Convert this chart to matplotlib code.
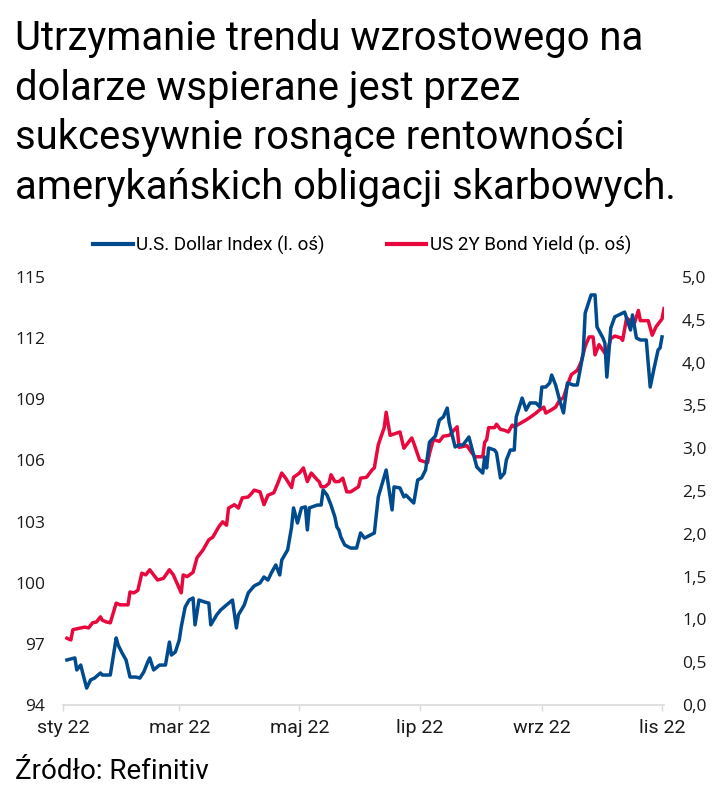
import matplotlib
matplotlib.use("Agg")
import matplotlib.pyplot as plt
from matplotlib.ticker import FixedLocator, FuncFormatter
import pandas as pd

# ---------------- data ----------------
start = pd.Timestamp("2022-01-01")

usd_days = [2, 4, 6, 7, 9, 10, 12, 14, 16, 19, 20, 24, 27, 28, 30, 32, 34, 37, 39, 41,
            43, 44, 46, 49, 52, 54, 55, 57, 59, 60, 62, 64, 66, 67, 69, 72, 74, 75, 78, 80,
            83, 86, 88, 89, 92, 94, 97, 100, 102, 104, 106, 108, 110, 111, 114, 116, 117, 119, 121, 123,
            124, 125, 129, 131, 132, 134, 136, 138, 139, 140, 141, 143, 146, 149, 151, 153, 158, 160, 164, 167,
            168, 171, 173, 174, 178, 180, 182, 184, 186, 189, 191, 193, 195, 196, 199, 201, 203, 206, 208, 210,
            213, 214, 215, 216, 219, 220, 222, 224, 225, 227, 229, 230, 233, 235, 237, 240, 242, 243, 245, 247,
            248, 250, 252, 254, 256, 259, 261, 264, 265, 268, 270, 271, 274, 275, 276, 278, 280, 285, 288, 289,
            291, 293, 296, 298, 300, 302, 303, 304]
usd_index = [96.21, 96.26, 96.31, 95.72, 95.96, 95.57, 94.83, 95.23, 95.32, 95.57, 95.47, 95.47, 97.29, 96.94, 96.55, 96.21, 95.37, 95.37, 95.32, 95.62,
             96.11, 96.31, 95.72, 95.96, 95.96, 97.09, 96.45, 96.60, 97.19, 97.83, 98.81, 99.15, 99.25, 97.93, 99.15, 99.05, 99.00, 97.93, 98.42, 98.66,
             98.91, 99.15, 97.78, 98.42, 98.91, 99.50, 99.84, 99.99, 100.28, 100.13, 100.53, 100.87, 100.38, 101.11, 101.61, 102.73, 103.67, 102.93, 103.67, 103.72,
             102.59, 103.67, 103.81, 103.81, 104.55, 104.30, 103.81, 103.22, 102.73, 102.59, 102.24, 101.85, 101.70, 101.70, 102.44, 102.19, 102.44, 104.21, 105.53, 103.57,
             104.70, 104.65, 104.21, 104.30, 103.91, 105.04, 105.14, 105.53, 106.90, 107.20, 107.98, 108.13, 108.57, 107.84, 106.66, 106.76, 106.76, 107.15, 106.41, 105.68,
             105.38, 106.17, 105.63, 106.61, 106.51, 106.37, 105.14, 105.38, 106.02, 106.51, 106.51, 108.13, 109.06, 108.47, 108.82, 108.82, 108.62, 109.60, 109.60, 109.80,
             110.19, 109.70, 108.97, 108.33, 109.80, 109.70, 109.70, 111.27, 113.23, 114.12, 114.12, 112.55, 112.01, 111.76, 110.09, 112.50, 113.04, 113.28, 112.40, 113.14,
             112.01, 111.91, 111.91, 109.60, 110.54, 111.42, 111.52, 112.06]

yield_days = [2, 4, 5, 9, 11, 13, 15, 17, 19, 20, 22, 24, 27, 29, 33, 34, 36, 38, 40, 42,
              44, 48, 51, 54, 56, 60, 61, 63, 66, 68, 71, 74, 76, 79, 81, 83, 84, 87, 89, 91,
              94, 96, 97, 100, 102, 104, 107, 109, 111, 113, 116, 117, 120, 122, 124, 126, 129, 130, 131, 133,
              135, 136, 138, 140, 142, 144, 146, 150, 151, 154, 157, 158, 160, 163, 164, 166, 171, 173, 177, 178,
              181, 185, 186, 188, 191, 193, 196, 200, 201, 205, 207, 209, 213, 214, 215, 216, 219, 220, 222, 224,
              226, 228, 229, 232, 235, 237, 240, 242, 244, 245, 248, 250, 252, 254, 256, 258, 261, 263, 265, 267,
              269, 270, 272, 275, 276, 278, 280, 283, 284, 286, 288, 290, 292, 293, 297, 299, 301, 304, 305]
us2y_yield = [0.78, 0.76, 0.88, 0.90, 0.91, 0.90, 0.96, 0.97, 1.03, 0.99, 0.97, 0.96, 1.19, 1.17, 1.17, 1.32, 1.31, 1.34, 1.54, 1.52,
              1.58, 1.46, 1.48, 1.58, 1.52, 1.31, 1.52, 1.50, 1.55, 1.72, 1.81, 1.93, 1.96, 2.08, 2.14, 2.10, 2.30, 2.34, 2.30, 2.42,
              2.43, 2.48, 2.51, 2.49, 2.34, 2.45, 2.48, 2.59, 2.71, 2.65, 2.54, 2.66, 2.71, 2.77, 2.61, 2.71, 2.63, 2.61, 2.55, 2.55,
              2.59, 2.69, 2.61, 2.61, 2.65, 2.49, 2.49, 2.55, 2.65, 2.66, 2.75, 2.77, 3.04, 3.24, 3.42, 3.15, 3.19, 3.00, 3.12, 3.06,
              2.86, 2.83, 2.94, 3.10, 3.08, 3.14, 3.15, 3.25, 3.01, 3.03, 2.96, 2.90, 2.90, 3.07, 3.10, 3.24, 3.24, 3.28, 3.22, 3.21,
              3.19, 3.27, 3.25, 3.29, 3.33, 3.36, 3.41, 3.45, 3.48, 3.41, 3.45, 3.48, 3.56, 3.59, 3.74, 3.86, 3.91, 4.01, 4.19, 4.30,
              4.30, 4.09, 4.21, 4.11, 4.11, 4.28, 4.31, 4.29, 4.26, 4.52, 4.49, 4.46, 4.61, 4.49, 4.49, 4.32, 4.42, 4.51, 4.63]

left_ticks = [94, 97, 100, 103, 106, 109, 112, 115]
right_ticks = [0.0, 0.5, 1.0, 1.5, 2.0, 2.5, 3.0, 3.5, 4.0, 4.5, 5.0]
month_ticks = ["2022-01-01", "2022-03-01", "2022-05-01", "2022-07-01", "2022-09-01", "2022-11-01"]
month_labels = ["sty 22", "mar 22", "maj 22", "lip 22", "wrz 22", "lis 22"]

title = ("Utrzymanie trendu wzrostowego na\n"
         "dolarze wspierane jest przez\n"
         "sukcesywnie rosnące rentowności\n"
         "amerykańskich obligacji skarbowych.")
legend_labels = ["U.S. Dollar Index (l. oś)", "US 2Y Bond Yield (p. oś)"]
source = "Źródło: Refinitiv"

# ---------------- drawing ----------------
BLUE = "#004B8D"
RED = "#E8083E"
GRAY = "#D9D9D9"
TXT = "#1a1a1a"
narrow = ["Roboto", "DejaVu Sans"]
tickfont = ["Open Sans", "DejaVu Sans"]

usd_dates = [start + pd.Timedelta(days=d) for d in usd_days]
yld_dates = [start + pd.Timedelta(days=d) for d in yield_days]

fig = plt.figure(figsize=(7.2, 7.96), dpi=100)
ax = fig.add_axes([63 / 720, 1 - 705 / 796, 601 / 720, 428 / 796])
ax2 = ax.twinx()

l1, = ax.plot(usd_dates, usd_index, color=BLUE, lw=2.5, solid_joinstyle="round")
l2, = ax2.plot(yld_dates, us2y_yield, color=RED, lw=2.5, solid_joinstyle="round")
ax.set_zorder(ax2.get_zorder() + 1)
ax.patch.set_visible(False)

ax.set_xlim(pd.Timestamp("2022-01-01"), pd.Timestamp("2022-11-02"))
ax.set_ylim(94, 115)
ax2.set_ylim(0, 5)
ax.yaxis.set_major_locator(FixedLocator(left_ticks))
ax2.yaxis.set_major_locator(FixedLocator(right_ticks))
ax2.yaxis.set_major_formatter(FuncFormatter(lambda v, p: f"{v:.1f}".replace(".", ",")))
ax.set_xticks([pd.Timestamp(m) for m in month_ticks])
ax.set_xticklabels(month_labels)

for a in (ax, ax2):
    for s in a.spines.values():
        s.set_visible(False)
ax.spines["bottom"].set_visible(True)
ax.spines["bottom"].set_color(GRAY)
ax.spines["bottom"].set_linewidth(1.2)

ax.tick_params(axis="y", length=0, pad=13, labelsize=12.5, labelcolor=TXT)
ax2.tick_params(axis="y", length=0, pad=13, labelsize=12.5, labelcolor=TXT)
ax.tick_params(axis="x", length=4, width=1, color=GRAY, pad=6, labelsize=14, labelcolor=TXT)
for lab in ax.get_yticklabels() + ax2.get_yticklabels():
    lab.set_family(tickfont)
for lab in ax.get_xticklabels():
    lab.set_family(narrow)

fig.text(0.021, 0.976, title, va="top", ha="left", fontsize=28.8, family=narrow,
         weight="normal", color="black", linespacing=1.34)

leg = fig.legend([l1, l2], legend_labels, loc="center", bbox_to_anchor=(0.503, 0.692),
                 ncol=2, frameon=False, handlelength=2.1, handletextpad=0.2,
                 columnspacing=3.3, prop={"family": narrow, "size": 13.5})
for h in leg.legend_handles:
    h.set_linewidth(3)

fig.text(0.021, 0.031, source, va="center", ha="left", fontsize=20, family=narrow, color="black")

fig.savefig("out.png", dpi=100)
